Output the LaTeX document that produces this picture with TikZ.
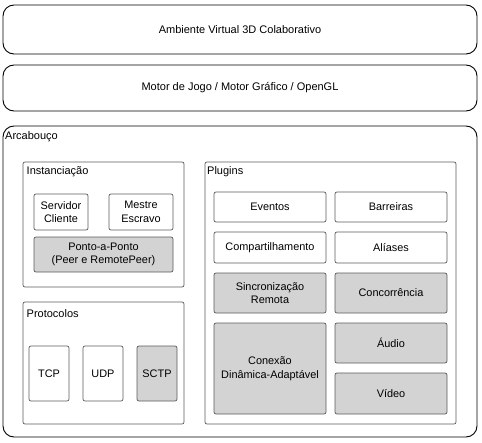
\documentclass[tikz,border=0pt]{standalone}
\usepackage{fontspec}
\setmainfont{Liberation Sans}
\definecolor{boxfill}{RGB}{211,211,211}
\definecolor{boxline}{RGB}{90,90,90}
\begin{document}
\begin{tikzpicture}[x=1pt, y=-1pt,
    layer/.style ={draw=black, line width=0.9pt, rounded corners=11pt, inner sep=0pt},
    group/.style ={draw=boxline, line width=0.7pt, rounded corners=2pt, inner sep=0pt},
    module/.style ={draw=boxline, line width=0.7pt, rounded corners=2pt, inner sep=0pt,
      align=center, font=\fontsize{10.9}{13.5}\selectfont},
    gmodule/.style ={module, fill=boxfill},
    title/.style ={anchor=west, inner sep=0pt, font=\fontsize{11}{13}\selectfont}]
   \useasboundingbox (0,0) rectangle (482,442);

   \node[layer, minimum width=474pt, minimum height=49pt, font=\fontsize{11}{13}\selectfont] (amb) at (240,29.5) {Ambiente Virtual 3D Colaborativo};
   \node[layer, minimum width=474pt, minimum height=46pt, font=\fontsize{11}{13}\selectfont] (motor) at (240,88) {Motor de Jogo / Motor Gráfico / OpenGL};
   \node[layer, minimum width=474pt, minimum height=311pt] (arc) at (240,281.5) {};
   \node[title] (arclabel) at (5,136.5) {Arcabouço};

   \node[group, minimum width=161pt, minimum height=125pt] (inst) at (103.5,224.5) {};
   \node[title] (instlabel) at (26.5,172) {Instanciação};
   \node[module, minimum width=54pt, minimum height=36pt] (serv) at (61,212) {Servidor\\Cliente};
   \node[module, minimum width=64pt, minimum height=36pt] (mestre) at (141,212) {Mestre\\Escravo};
   \node[gmodule, minimum width=139pt, minimum height=35pt] (ponto) at (103.5,254.5) {Ponto-a-Ponto\\(Peer e RemotePeer)};

   \node[group, minimum width=161pt, minimum height=122pt] (prot) at (103.5,363) {};
   \node[title] (protlabel) at (26.5,314) {Protocolos};
   \node[module, minimum width=40pt, minimum height=55pt] (tcp) at (49,373.5) {TCP};
   \node[module, minimum width=40pt, minimum height=55pt] (udp) at (103,373.5) {UDP};
   \node[gmodule, minimum width=40pt, minimum height=55pt] (sctp) at (157,373.5) {SCTP};

   \node[group, minimum width=251pt, minimum height=262pt] (plug) at (330.5,293) {};
   \node[title] (pluglabel) at (207,172) {Plugins};
   \node[module, minimum width=112pt, minimum height=30pt] (eventos) at (270,207) {Eventos};
   \node[module, minimum width=112pt, minimum height=30pt] (barreiras) at (391,207) {Barreiras};
   \node[module, minimum width=112pt, minimum height=31pt] (compart) at (270,247.5) {Compartilhamento};
   \node[module, minimum width=112pt, minimum height=31pt] (aliases) at (391,247.5) {Alíases};
   \node[gmodule, minimum width=112pt, minimum height=40pt] (sinc) at (270,293) {Sincronização\\Remota};
   \node[gmodule, minimum width=112pt, minimum height=40pt] (conc) at (391,293) {Concorrência};
   \node[gmodule, minimum width=112pt, minimum height=91pt] (conexao) at (270,368.5) {Conexão\\Dinâmica-Adaptável};
   \node[gmodule, minimum width=112pt, minimum height=40pt] (audio) at (391,343) {Áudio};
   \node[gmodule, minimum width=112pt, minimum height=41pt] (video) at (391,393.5) {Vídeo};

 \end{tikzpicture}
\end{document}
